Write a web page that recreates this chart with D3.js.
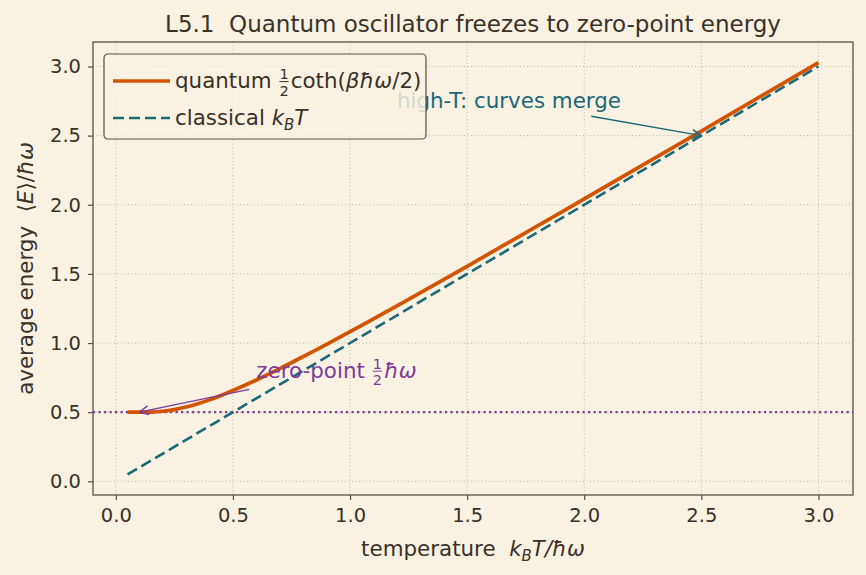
<!DOCTYPE html>
<html>
<head>
<meta charset="utf-8">
<script src="https://cdn.jsdelivr.net/npm/d3@7"></script>
<style>
  body { margin: 0; background: #f9f2e3; }
  svg { display: block; font-family: "DejaVu Sans", sans-serif; }
  text { white-space: pre; }
</style>
</head>
<body>
<svg id="chart" width="866" height="575"></svg>
<script>
// temperature samples k_B T / hbar omega
const temps = [0.05, 0.1, 0.15, 0.2, 0.25, 0.3, 0.35, 0.4, 0.5, 0.6, 0.7, 0.8, 0.9, 1.0, 1.25, 1.5, 2.0, 2.5, 3.0];
// quantum average energy
const quantumE = [0.5, 0.5, 0.501, 0.507, 0.519, 0.537, 0.561, 0.589, 0.657, 0.733, 0.815, 0.902, 0.991, 1.082, 1.316, 1.555, 2.042, 2.533, 3.028];
// classical line endpoints
const classicalT = [0.05, 3.0];
const classicalE = [0.05, 3.0];
const zeroPoint = 0.5;
const xTicks = [0, 0.5, 1.0, 1.5, 2.0, 2.5, 3.0];
const yTicks = [0, 0.5, 1.0, 1.5, 2.0, 2.5, 3.0];

const ink = "#3a3128";
const orange = "#d35400";
const teal = "#1b6878";
const purple = "#7d3c98";

const svg = d3.select("#chart");
const margin = {left: 93, right: 13, top: 42, bottom: 80};
const W = 866, H = 575;
const tickFont = 19.5, labelFont = 21.4;

const x = d3.scaleLinear().domain([-0.0975, 3.1475]).range([margin.left, W - margin.right]);
const y = d3.scaleLinear().domain([-0.0989, 3.177]).range([H - margin.bottom, margin.top]);

svg.append("rect").attr("width", W).attr("height", H).attr("fill", "#f9f2e3");

// grid
const grid = svg.append("g").attr("stroke", "#aea392").attr("stroke-width", 0.8).attr("stroke-dasharray", "1,2.5");
grid.selectAll(".gx").data(xTicks).enter().append("line")
    .attr("x1", d => x(d)).attr("x2", d => x(d))
    .attr("y1", margin.top).attr("y2", H - margin.bottom);
grid.selectAll(".gy").data(yTicks).enter().append("line")
    .attr("y1", d => y(d)).attr("y2", d => y(d))
    .attr("x1", margin.left).attr("x2", W - margin.right);

// axes
const xAxis = svg.append("g").attr("transform", `translate(0,${H - margin.bottom})`)
    .call(d3.axisBottom(x).tickValues(xTicks).tickFormat(d3.format(".1f")).tickSizeOuter(0).tickSize(5).tickPadding(8));
const yAxis = svg.append("g").attr("transform", `translate(${margin.left},0)`)
    .call(d3.axisLeft(y).tickValues(yTicks).tickFormat(d3.format(".1f")).tickSizeOuter(0).tickSize(5).tickPadding(7));
[xAxis, yAxis].forEach(a => {
    a.select(".domain").remove();
    a.selectAll("line").attr("stroke", "#5a4e42").attr("stroke-width", 1.2);
    a.selectAll("text").attr("fill", ink).attr("font-size", tickFont).attr("font-family", "DejaVu Sans");
});

// zero-point line
svg.append("line")
    .attr("x1", margin.left).attr("x2", W - margin.right)
    .attr("y1", y(zeroPoint)).attr("y2", y(zeroPoint))
    .attr("stroke", purple).attr("stroke-width", 2.2).attr("stroke-dasharray", "2.2,3.3");

// classical
const line = d3.line().x(d => x(d[0])).y(d => y(d[1]));
svg.append("path")
    .datum(classicalT.map((t, i) => [t, classicalE[i]]))
    .attr("d", line).attr("fill", "none")
    .attr("stroke", teal).attr("stroke-width", 2.6).attr("stroke-dasharray", "11,5");

// quantum
svg.append("path")
    .datum(temps.map((t, i) => [t, quantumE[i]]))
    .attr("d", line.curve(d3.curveMonotoneX)).attr("fill", "none")
    .attr("stroke", orange).attr("stroke-width", 3.7);

// spines
svg.append("rect")
    .attr("x", margin.left).attr("y", margin.top)
    .attr("width", W - margin.left - margin.right).attr("height", H - margin.top - margin.bottom)
    .attr("fill", "none").attr("stroke", "#5a4e42").attr("stroke-width", 1.3);

// arrow markers
const defs = svg.append("defs");
function arrowHead(id, color) {
    defs.append("marker").attr("id", id).attr("viewBox", "0 0 10 10")
        .attr("refX", 9.5).attr("refY", 5).attr("markerWidth", 11).attr("markerHeight", 11)
        .attr("markerUnits", "userSpaceOnUse").attr("orient", "auto")
        .append("path").attr("d", "M1,1 L9.5,5 L1,9").attr("fill", "none")
        .attr("stroke", color).attr("stroke-width", 1.4);
}
arrowHead("arT", teal);
arrowHead("arP", purple);

// rich text helper: segments {t, it, sub, frac}
function rich(g, segs, size, color) {
    let cx = 0;
    segs.forEach(s => {
        if (s.frac) {
            const fs = size * 0.68;
            const a = g.append("text").attr("x", cx + 1).attr("y", -size * 0.42).text(s.frac[0])
                .attr("font-size", fs).attr("fill", color);
            const b = g.append("text").attr("x", cx + 1).attr("y", size * 0.35).text(s.frac[1])
                .attr("font-size", fs).attr("fill", color);
            const w = Math.max(a.node().getComputedTextLength(), b.node().getComputedTextLength());
            g.append("line").attr("x1", cx + 1).attr("x2", cx + w + 1)
                .attr("y1", -size * 0.3).attr("y2", -size * 0.3)
                .attr("stroke", color).attr("stroke-width", 1);
            cx += w + 3;
        } else {
            const t = g.append("text").attr("x", cx).attr("y", s.sub ? size * 0.22 : 0)
                .text(s.t).attr("font-size", s.sub ? size * 0.7 : size).attr("fill", color)
                .attr("font-style", s.it ? "italic" : null);
            cx += t.node().getComputedTextLength() + (s.gap || 0);
        }
    });
    return cx;
}

// annotations
svg.append("line")
    .attr("x1", x(2.03)).attr("y1", y(2.64)).attr("x2", x(2.5)).attr("y2", y(2.5))
    .attr("stroke", teal).attr("stroke-width", 1.4).attr("marker-end", "url(#arT)");
svg.append("text").attr("x", x(1.2)).attr("y", y(2.7))
    .attr("font-size", labelFont).attr("fill", teal).text("high-T: curves merge");

svg.append("line")
    .attr("x1", x(0.57)).attr("y1", y(0.665)).attr("x2", x(0.1)).attr("y2", y(0.5))
    .attr("stroke", purple).attr("stroke-width", 1.4).attr("marker-end", "url(#arP)");
const zp = svg.append("g").attr("transform", `translate(${x(0.6)},${y(0.75)})`);
rich(zp, [{t: "zero-point "}, {frac: ["1", "2"]}, {t: "ħω", it: true}], labelFont, purple);

// legend
const lg = svg.append("g").attr("transform", "translate(104,54)");
lg.append("rect").attr("width", 322).attr("height", 85).attr("rx", 4)
    .attr("fill", "#f9f2e3").attr("fill-opacity", 0.82)
    .attr("stroke", "#5a4e42").attr("stroke-width", 1.2);
lg.append("line").attr("x1", 9).attr("x2", 66).attr("y1", 27).attr("y2", 27)
    .attr("stroke", orange).attr("stroke-width", 3.7);
lg.append("line").attr("x1", 9).attr("x2", 66).attr("y1", 64).attr("y2", 64)
    .attr("stroke", teal).attr("stroke-width", 2.6).attr("stroke-dasharray", "11,5");
const l1 = lg.append("g").attr("transform", "translate(71,34)");
rich(l1, [{t: "quantum "}, {frac: ["1", "2"]}, {t: "coth("}, {t: "βħω", it: true}, {t: "/2)"}], labelFont, ink);
const l2 = lg.append("g").attr("transform", "translate(71,71)");
rich(l2, [{t: "classical "}, {t: "k", it: true}, {t: "B", it: true, sub: true}, {t: "T", it: true}], labelFont, ink);

// title
svg.append("text").attr("x", (margin.left + W - margin.right) / 2).attr("y", 32)
    .attr("text-anchor", "middle").attr("font-size", 23).attr("fill", ink)
    .text("L5.1  Quantum oscillator freezes to zero-point energy");

// x label
const xl = svg.append("g");
const xw = rich(xl, [{t: "temperature  "}, {t: "k", it: true}, {t: "B", it: true, sub: true}, {t: "T/ħω", it: true}], labelFont, ink);
xl.attr("transform", `translate(${(margin.left + W - margin.right) / 2 - xw / 2},556)`);

// y label
const yl = svg.append("g");
const yw = rich(yl, [{t: "average energy  ⟨"}, {t: "E", it: true}, {t: "⟩/"}, {t: "ħω", it: true}], labelFont, ink);
yl.attr("transform", `translate(33,${(margin.top + H - margin.bottom) / 2 + yw / 2}) rotate(-90)`);
</script>
</body>
</html>
